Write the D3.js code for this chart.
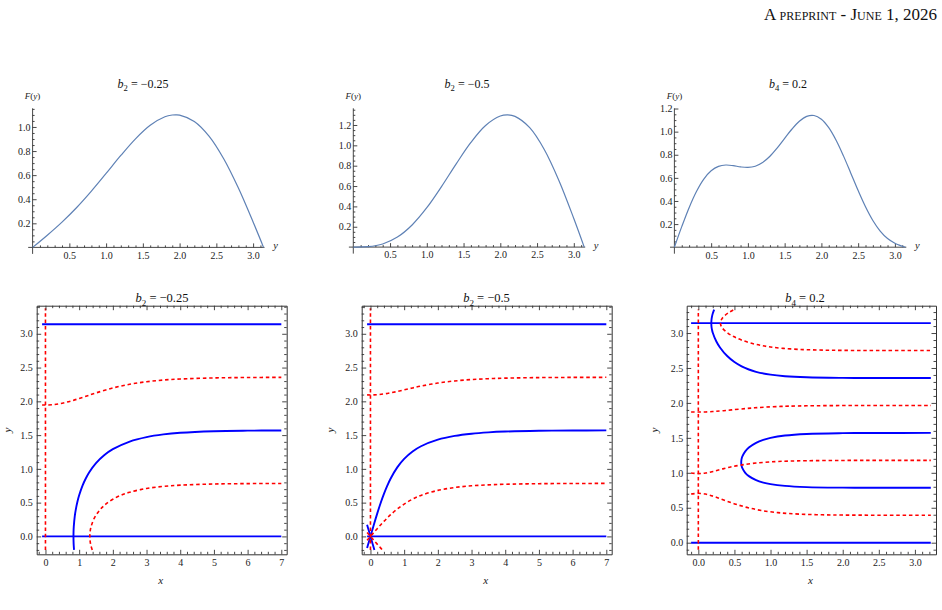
<!DOCTYPE html>
<html>
<head>
<meta charset="utf-8">
<script src="https://cdn.jsdelivr.net/npm/d3@7"></script>
<style>
  body { margin: 0; background: #fff; }
  svg { display: block; }
  svg text { font-family: "Liberation Serif", "Times New Roman", Times, serif; }
</style>
</head>
<body>
<svg id="chart" width="942" height="610"></svg>
<script>
const PI = 3.14159;

// ---------- top row: F(y) ----------
const yGridA = [0,0.2,0.4,0.6,0.8,1.0,1.2,1.4,1.6,1.8,1.9,1.95,2.0,2.2,2.4,2.6,2.8,3.0,3.14159];
const F_b2a  = [0,0.1013,0.2101,0.3316,0.4675,0.6141,0.7632,0.9017,1.0142,1.0845,1.0993,1.1009,1.0985,1.0464,0.9245,0.7364,0.4928,0.2110,0];

const yGridB = [0,0.2,0.4,0.6,0.8,1.0,1.2,1.4,1.6,1.8,2.0,2.1,2.2,2.4,2.6,2.8,3.0,3.14159];
const F_b2b  = [0,0.0040,0.0307,0.0986,0.2176,0.3868,0.5943,0.8180,1.0288,1.1951,1.2877,1.2990,1.2843,1.1735,0.9572,0.6506,0.2808,0];

const yGridC = [0,0.1,0.2,0.3,0.4,0.5,0.6,0.7,0.8,0.9,1.0,1.1,1.2,1.3,1.4,1.5,1.6,1.7,1.8,1.9,2.0,2.1,2.2,2.3,2.4,2.5,2.6,2.7,2.8,2.9,3.0,3.05,3.14159];
const F_b4   = [0,0.1777,0.3421,0.4819,0.5893,0.6613,0.6997,0.7112,0.7057,0.6948,0.6901,0.7009,0.7328,0.7869,0.8592,0.9416,1.0229,1.0905,1.1326,1.1399,1.1072,1.0341,0.9255,0.7903,0.6406,0.4897,0.3499,0.2312,0.1395,0.0747,0.0338,0.0198,0];

const topXTicks  = [0.5,1.0,1.5,2.0,2.5,3.0];
const topYTicksA = [0.2,0.4,0.6,0.8,1.0];
const topYTicksB = [0.2,0.4,0.6,0.8,1.0,1.2];
const topYTicksC = [0.2,0.4,0.6,0.8,1.0,1.2];

// ---------- bottom row: zero contours ----------
// panel 1 : b2 = -0.25
const p1Blue = [
  [[-0.1,0],[7,0]],
  [[-0.1,3.14159],[7,3.14159]],
  [[0.8486,-0.2],[0.84,-0.1418],[0.8336,-0.07],[0.8315,0],[0.8336,0.07],[0.84,0.1418],[0.87,0.2993],[0.9,0.3967],[0.95,0.5162],[1.0,0.6088],[1.1,0.7517],[1.2,0.8610],[1.3,0.9492],[1.5,1.0845],[1.75,1.2050],[2,1.2916],[2.5,1.4048],[3,1.4708],[3.5,1.5103],[4,1.5342],[5,1.5573],[6,1.5658],[7,1.5690]]
];
const p1Red = [
  [[0,-0.2],[0,3.38]],
  [[-0.1,1.9467],[0,1.9455],[0.25,1.9525],[0.5,1.9727],[0.75,2.0037],[1,2.0418],[1.25,2.0832],[1.5,2.1245],[2,2.1976],[2.5,2.2527],[3,2.2905],[3.5,2.3153],[4,2.3309],[5,2.3467],[6,2.3527],[7,2.3549]],
  [[1.388,-0.2],[1.35,-0.1374],[1.3256,-0.07],[1.317,0],[1.3256,0.07],[1.35,0.1374],[1.45,0.2707],[1.6,0.3839],[1.7,0.4379],[1.8,0.4820],[2,0.5503],[2.25,0.6112],[2.5,0.6545],[3,0.7098],[3.5,0.7408],[4,0.7588],[5,0.7758],[6,0.7819],[7,0.7841]]
];
// panel 2 : b2 = -0.5
const p2Blue = [
  [[-0.1,0],[7,0]],
  [[-0.1,3.14159],[7,3.14159]],
  [[-0.1,-0.1721],[-0.05,-0.0864],[0,0],[0.05,0.0864],[0.1,0.1721],[0.2,0.3375],[0.3,0.4911],[0.4,0.6295],[0.5,0.7514],[0.6,0.8570],[0.8,1.0253],[1,1.1482],[1.25,1.2578],[1.5,1.3350],[2,1.4326],[2.5,1.4881],[3,1.5209],[3.5,1.5406],[4,1.5525],[5,1.5641],[6,1.5683],[7,1.5699]],
  [[-0.1,0.1721],[-0.05,0.0864],[0,0],[0.05,-0.0864],[0.1,-0.1721],[0.1166,-0.2]]
];
const p2Red = [
  [[0,-0.2],[0,3.38]],
  [[-0.1,2.0954],[0,2.0944],[0.1,2.0954],[0.25,2.1003],[0.5,2.1169],[0.75,2.1411],[1,2.1693],[1.25,2.1982],[1.5,2.2253],[2,2.2702],[2.5,2.3017],[3,2.3223],[3.5,2.3353],[4,2.3435],[5,2.3514],[6,2.3544],[7,2.3555]],
  [[-0.1,-0.0576],[0,0],[0.1,0.0576],[0.2,0.1145],[0.3,0.1698],[0.4,0.2231],[0.5,0.2738],[0.6,0.3215],[0.8,0.4070],[1,0.4790],[1.25,0.5514],[1.5,0.6071],[2,0.6814],[2.5,0.7242],[3,0.7490],[3.5,0.7636],[4,0.7723],[5,0.7806],[6,0.7836],[7,0.7848]],
  [[-0.1,0.0576],[0,0],[0.1,-0.0576],[0.2,-0.1145],[0.3,-0.1698],[0.355,-0.2]]
];
// panel 3 : b4 = 0.2
const p3Blue = [
  [[-0.1,0],[3.22,0]],
  [[-0.1,3.14159],[3.22,3.14159]],
  [[0.219,3.335],[0.2,3.2791],[0.19,3.2385],[0.1825,3.19],[0.18,3.1416],[0.1825,3.09],[0.19,3.0447],[0.2,3.0042],[0.25,2.879],[0.3,2.7938],[0.4,2.6707],[0.5,2.5847],[0.6,2.523],[0.7,2.4782],[0.8,2.4453],[1.0,2.404],[1.2,2.3819],[1.5,2.3664],[2,2.3584],[2.5,2.3567],[3.22,2.3562]],
  [[3.22,0.7854],[2.5,0.7859],[2,0.7877],[1.5,0.7958],[1.2,0.8125],[1.0,0.8383],[0.9,0.8607],[0.8,0.8951],[0.7,0.9525],[0.65,1.0003],[0.61,1.0668],[0.6,1.0987],[0.5965,1.117],[0.594,1.1503],[0.5965,1.183],[0.6,1.2027],[0.61,1.2359],[0.65,1.3074],[0.7,1.3612],[0.8,1.4286],[0.9,1.4708],[1.0,1.4994],[1.2,1.5335],[1.5,1.5562],[2,1.5676],[2.5,1.5701],[3.22,1.5707]]
];
const p3Red = [
  [[0,-0.1],[0,3.335]],
  [[0.4833,3.33],[0.4327,3.3],[0.3671,3.25],[0.3244,3.2],[0.306,3.1416],[0.3265,3.08],[0.4082,3.0],[0.4891,2.95],[0.5965,2.9],[0.7493,2.85],[0.8799,2.82],[0.9998,2.8],[1.1765,2.78],[1.4063,2.765],[1.5,2.7612],[1.75,2.7548],[2,2.7517],[2.5,2.7495],[3.22,2.749]],
  [[-0.1,1.8711],[0,1.8693],[0.1,1.8711],[0.2,1.8764],[0.248,1.88],[0.35,1.8889],[0.459,1.9],[0.662,1.92],[0.781,1.93],[0.929,1.94],[1.143,1.95],[1.25,1.9534],[1.5,1.9585],[2,1.9623],[2.5,1.9632],[3.22,1.9635]],
  [[-0.1,0.9971],[0,0.988],[0.1,0.9971],[0.2051,1.02],[0.3162,1.05],[0.4343,1.08],[0.5829,1.11],[0.7984,1.14],[1.0638,1.16],[1.25,1.1676],[1.5,1.173],[2,1.1769],[2.5,1.1778],[3.22,1.1781]],
  [[-0.1,0.6958],[0,0.7065],[0.1,0.6958],[0.16,0.68],[0.2492,0.65],[0.3804,0.6],[0.5199,0.55],[0.69,0.5],[0.8785,0.46],[1.101,0.43],[1.25,0.4174],[1.5,0.4048],[1.75,0.3986],[2,0.3955],[2.5,0.3933],[3.22,0.3928]]
];

const botXTicks7  = [0,1,2,3,4,5,6,7];
const botXTicksPi = [0.0,0.5,1.0,1.5,2.0,2.5,3.0];
const botYTicks   = [0.0,0.5,1.0,1.5,2.0,2.5,3.0];

const titlesTop = [["2","−0.25"],["2","−0.5"],["4","0.2"]];
const titlesBot = [["2","−0.25"],["2","−0.5"],["4","0.2"]];

// ---------- drawing ----------
const svg = d3.select('#chart');
const SERIF = '"Liberation Serif", "Times New Roman", Times, serif';
const AX = '#333';

function minorVals(lo, hi, step, majors) {
  const out = [];
  const n0 = Math.ceil(lo / step - 1e-6), n1 = Math.floor(hi / step + 1e-6);
  for (let i = n0; i <= n1; i++) {
    const v = +(i * step).toFixed(5);
    if (!majors.some(m => Math.abs(m - v) < 1e-6)) out.push(v);
  }
  return out;
}

function styleAxis(g, size) {
  g.attr('font-family', null).attr('font-size', size).style('color', AX);
  g.selectAll('line').attr('stroke-width', 0.9);
  g.selectAll('text').style('font-family', SERIF).attr('fill', '#222');
}

function title(x, y, sub, rest, size) {
  const t = svg.append('text').attr('x', x).attr('y', y).attr('text-anchor', 'middle')
    .style('font-family', SERIF).attr('font-size', size).attr('fill', '#111');
  t.append('tspan').attr('font-style', 'italic').text('b');
  t.append('tspan').attr('font-size', size * 0.72).attr('dy', size * 0.28).text(sub);
  t.append('tspan').attr('dy', -size * 0.28).text(' = ' + rest);
}

function drawTop(p) {
  const g = svg.append('g');
  const xs = d3.scaleLinear().domain([0, PI]).range([p.x0, p.x0 + PI * 73.5]);
  const ys = d3.scaleLinear().domain([0, p.yMax]).range([p.y0, 108.3]);

  g.append('line').attr('x1', xs(-0.06)).attr('x2', xs(PI) + 1).attr('y1', ys(0)).attr('y2', ys(0))
    .attr('stroke', AX).attr('stroke-width', 0.9);
  g.append('line').attr('x1', xs(0)).attr('x2', xs(0)).attr('y1', ys(0) + 6.5).attr('y2', ys(p.yMax))
    .attr('stroke', AX).attr('stroke-width', 0.9);

  const gx = g.append('g').attr('transform', `translate(0,${ys(0)})`)
    .call(d3.axisBottom(xs).tickValues(topXTicks).tickFormat(d3.format('.1f'))
      .tickSizeInner(-4).tickSizeOuter(0).tickPadding(4.3));
  gx.select('.domain').remove(); styleAxis(gx, 10);
  const gxm = g.append('g').attr('transform', `translate(0,${ys(0)})`)
    .call(d3.axisBottom(xs).tickValues(minorVals(0.1, 3.1, 0.1, topXTicks)).tickFormat('')
      .tickSizeInner(-2).tickSizeOuter(0));
  gxm.select('.domain').remove(); styleAxis(gxm, 10);

  const gy = g.append('g').attr('transform', `translate(${xs(0)},0)`)
    .call(d3.axisLeft(ys).tickValues(p.yTicks).tickFormat(d3.format('.1f'))
      .tickSizeInner(-4).tickSizeOuter(0).tickPadding(2));
  gy.select('.domain').remove(); styleAxis(gy, 10);
  const gym = g.append('g').attr('transform', `translate(${xs(0)},0)`)
    .call(d3.axisLeft(ys).tickValues(minorVals(0.05, p.yMax, 0.05, p.yTicks)).tickFormat('')
      .tickSizeInner(-2).tickSizeOuter(0));
  gym.select('.domain').remove(); styleAxis(gym, 10);

  g.append('path').datum(d3.zip(p.xv, p.fv))
    .attr('d', d3.line().x(d => xs(d[0])).y(d => ys(d[1])).curve(d3.curveCatmullRom.alpha(0.5)))
    .attr('fill', 'none').attr('stroke', '#5e81b5').attr('stroke-width', 1.2);

  // axis labels
  const fl = g.append('text').attr('x', xs(0)).attr('y', 99).attr('text-anchor', 'middle')
    .style('font-family', SERIF).attr('font-size', 9).attr('fill', '#222');
  fl.append('tspan').attr('font-style', 'italic').text('F');
  fl.append('tspan').text('(');
  fl.append('tspan').attr('font-style', 'italic').text('y');
  fl.append('tspan').text(')');
  g.append('text').attr('x', xs(PI) + 12).attr('y', 248.5).attr('text-anchor', 'middle')
    .style('font-family', SERIF).attr('font-size', 10.5).attr('font-style', 'italic').attr('fill', '#222').text('y');

  title(p.tx, 88, p.title[0], p.title[1], 12);
}

function drawBottom(p, idx) {
  const T = 305.7, B = 554.3;
  const g = svg.append('g');
  const xs = d3.scaleLinear().domain(p.xDom).range([p.left, p.right]);
  const ys = d3.scaleLinear().domain(p.yDom).range([B, T]);
  const cid = 'clip' + idx;
  svg.append('clipPath').attr('id', cid).append('rect')
    .attr('x', p.left).attr('y', T).attr('width', p.right - p.left).attr('height', B - T);
  const cg = g.append('g').attr('clip-path', `url(#${cid})`);
  const line = d3.line().x(d => xs(d[0])).y(d => ys(d[1])).curve(d3.curveCatmullRom.alpha(0.5));
  p.blue.forEach(d => cg.append('path').attr('d', line(d)).attr('fill', 'none')
    .attr('stroke', '#0000ff').attr('stroke-width', 1.9));
  p.red.forEach(d => cg.append('path').attr('d', line(d)).attr('fill', 'none')
    .attr('stroke', '#ff0000').attr('stroke-width', 1.6).attr('stroke-dasharray', '3.5,2.8'));

  const xMin = minorVals(p.xDom[0], p.xDom[1], p.xMinor, p.xTicks);
  const yMin = minorVals(p.yDom[0], p.yDom[1], 0.1, botYTicks);

  const ab = g.append('g').attr('transform', `translate(0,${B})`)
    .call(d3.axisBottom(xs).tickValues(p.xTicks).tickFormat(p.xFmt).tickSizeInner(-4.5).tickSizeOuter(0).tickPadding(5));
  styleAxis(ab, 10);
  const abm = g.append('g').attr('transform', `translate(0,${B})`)
    .call(d3.axisBottom(xs).tickValues(xMin).tickFormat('').tickSizeInner(-2.5).tickSizeOuter(0));
  abm.select('.domain').remove(); styleAxis(abm, 10);
  const at = g.append('g').attr('transform', `translate(0,${T})`)
    .call(d3.axisTop(xs).tickValues(p.xTicks).tickFormat('').tickSizeInner(-4.5).tickSizeOuter(0));
  styleAxis(at, 10);
  const atm = g.append('g').attr('transform', `translate(0,${T})`)
    .call(d3.axisTop(xs).tickValues(xMin).tickFormat('').tickSizeInner(-2.5).tickSizeOuter(0));
  atm.select('.domain').remove(); styleAxis(atm, 10);
  const al = g.append('g').attr('transform', `translate(${p.left},0)`)
    .call(d3.axisLeft(ys).tickValues(botYTicks).tickFormat(d3.format('.1f')).tickSizeInner(-4.5).tickSizeOuter(0).tickPadding(p.yPad));
  styleAxis(al, 10);
  const alm = g.append('g').attr('transform', `translate(${p.left},0)`)
    .call(d3.axisLeft(ys).tickValues(yMin).tickFormat('').tickSizeInner(-2.5).tickSizeOuter(0));
  alm.select('.domain').remove(); styleAxis(alm, 10);
  const ar = g.append('g').attr('transform', `translate(${p.right},0)`)
    .call(d3.axisRight(ys).tickValues(botYTicks).tickFormat('').tickSizeInner(-4.5).tickSizeOuter(0));
  styleAxis(ar, 10);
  const arm = g.append('g').attr('transform', `translate(${p.right},0)`)
    .call(d3.axisRight(ys).tickValues(yMin).tickFormat('').tickSizeInner(-2.5).tickSizeOuter(0));
  arm.select('.domain').remove(); styleAxis(arm, 10);

  g.append('text').attr('x', (p.left + p.right) / 2 - 1).attr('y', 584.3).attr('text-anchor', 'middle')
    .style('font-family', SERIF).attr('font-size', 11).attr('font-style', 'italic').attr('fill', '#222').text('x');
  g.append('text').attr('transform', `translate(${p.yLabX},430) rotate(-90)`).attr('text-anchor', 'middle')
    .style('font-family', SERIF).attr('font-size', 11).attr('font-style', 'italic').attr('fill', '#222').text('y');

  title(p.tx, 302, p.title[0], p.title[1], 12.5);
}

// header
svg.append('text').attr('x', 937).attr('y', 19.5).attr('text-anchor', 'end')
  .style('font-family', SERIF).attr('font-size', 17).style('font-variant', 'small-caps')
  .attr('fill', '#111').text('A preprint - June 1, 2026');

drawTop({x0: 32.6, y0: 247.4, yMax: 1.155, yTicks: topYTicksA, xv: yGridA, fv: F_b2a, tx: 143, title: titlesTop[0]});
drawTop({x0: 353.3, y0: 247.1, yMax: 1.364, yTicks: topYTicksB, xv: yGridB, fv: F_b2b, tx: 467, title: titlesTop[1]});
drawTop({x0: 674.4, y0: 247.2, yMax: 1.202, yTicks: topYTicksC, xv: yGridC, fv: F_b4, tx: 788, title: titlesTop[2]});

const fmtInt = d3.format('d'), fmt1 = d3.format('.1f');
drawBottom({left: 36.7, right: 286.7, xDom: [-0.26, 7.16], yDom: [-0.265, 3.416], xTicks: botXTicks7, xMinor: 0.2, xFmt: fmtInt,
  blue: p1Blue, red: p1Red, yPad: 4, yLabX: 10.5, tx: 162, title: titlesBot[0]}, 1);
drawBottom({left: 361.7, right: 611.7, xDom: [-0.26, 7.16], yDom: [-0.265, 3.416], xTicks: botXTicks7, xMinor: 0.2, xFmt: fmtInt,
  blue: p2Blue, red: p2Red, yPad: 4, yLabX: 334, tx: 486.5, title: titlesBot[1]}, 2);
drawBottom({left: 686.7, right: 936, xDom: [-0.161, 3.292], yDom: [-0.166, 3.391], xTicks: botXTicksPi, xMinor: 0.1, xFmt: fmt1,
  blue: p3Blue, red: p3Red, yPad: 3.4, yLabX: 658, tx: 805, title: titlesBot[2]}, 3);
</script>
</body>
</html>
